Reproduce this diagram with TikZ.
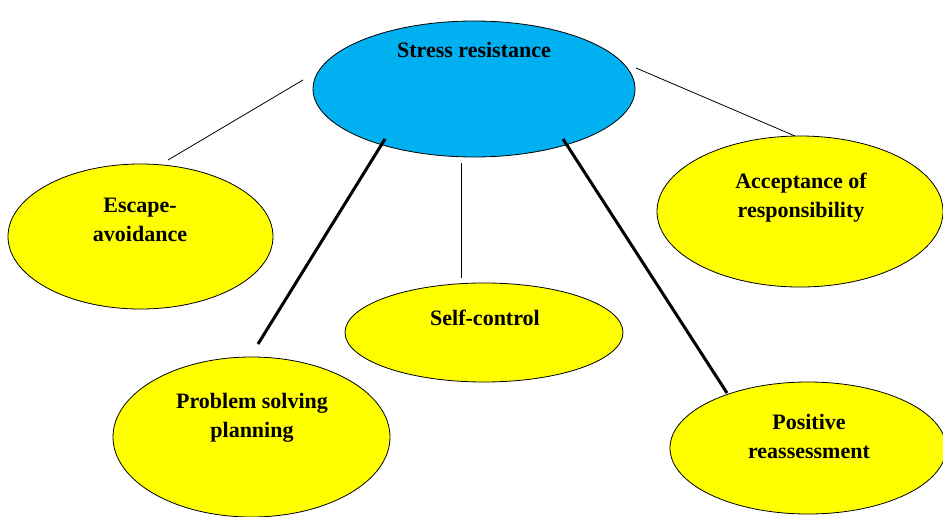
\documentclass[tikz,border=0pt]{standalone}
\usepackage{fontspec}
\setmainfont{Liberation Serif}
\usetikzlibrary{shapes.geometric}
\definecolor{stressblue}{HTML}{00B0F0}
\definecolor{copeyellow}{HTML}{FFFF00}

\begin{document}
\begin{tikzpicture}[x=1pt,y=-1pt,
        bubble/.style={ellipse,draw,line width=0.8pt,inner sep=0pt,fill=copeyellow},
        lbl/.style={font=\fontsize{22}{29}\selectfont\bfseries,align=center,inner sep=0pt},
        thinlink/.style={line width=0.8pt},
        thicklink/.style={line width=3pt}]
    \useasboundingbox (0,0) rectangle (943,517);
    % ellipses
    \node[bubble,fill=stressblue,minimum width=322pt,minimum height=136pt] (stress) at (474,89) {};
    \node[bubble,minimum width=265pt,minimum height=145pt] (escape) at (140.5,236.5) {};
    \node[bubble,minimum width=286pt,minimum height=151pt] (accept) at (800,211.5) {};
    \node[bubble,minimum width=278pt,minimum height=99pt] (selfctl) at (484,332.5) {};
    \node[bubble,minimum width=277pt,minimum height=160pt] (problem) at (251.5,437) {};
    \node[bubble,minimum width=276pt,minimum height=132pt] (positive) at (808,448) {};
    % labels
    \node[lbl] (stresstxt) at (474,50) {Stress resistance};
    \node[lbl] (escapetxt) at (140,220) {Escape-\\avoidance};
    \node[lbl] (accepttxt) at (801,198) {Acceptance of\\responsibility};
    \node[lbl] (selfctltxt) at (485,317.5) {Self-control};
    \node[lbl] (problemtxt) at (252,418) {Problem solving\\planning};
    \node[lbl] (positivetxt) at (809,436.5) {Positive\\reassessment};
    % line ends
    \coordinate (s1) at (303,80);   \coordinate (e1) at (168,160);
    \coordinate (s2) at (636,68);   \coordinate (e2) at (795,136);
    \coordinate (s3) at (385,139);  \coordinate (e3) at (258,344);
    \coordinate (s4) at (461,163);  \coordinate (e4) at (461,278);
    \coordinate (s5) at (563,139);  \coordinate (e5) at (727,393);
    \draw[thinlink] (s1) -- (e1);
    \draw[thinlink] (s2) -- (e2);
    \draw[thicklink] (s3) -- (e3);
    \draw[thinlink] (s4) -- (e4);
    \draw[thicklink] (s5) -- (e5);
\end{tikzpicture}
\end{document}
